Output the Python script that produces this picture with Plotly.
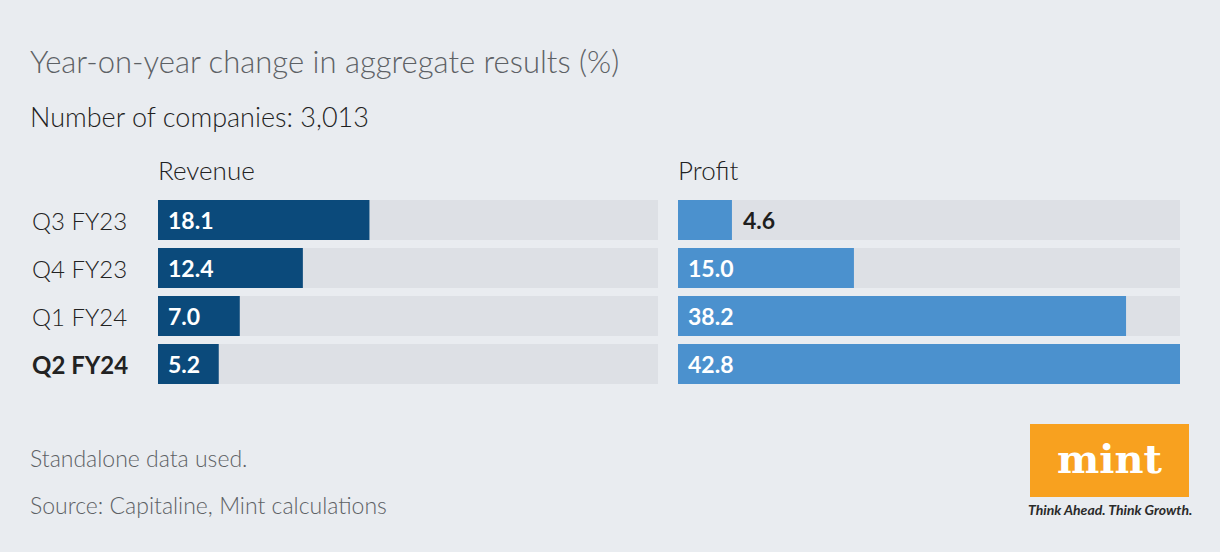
import plotly.graph_objects as go

categories = ["Q3 FY23", "Q4 FY23", "Q1 FY24", "Q2 FY24"]
revenue = [18.1, 12.4, 7.0, 5.2]
profit = [4.6, 15.0, 38.2, 42.8]
highlight = "Q2 FY24"

title = "Year-on-year change in aggregate results (%)"
subtitle = "Number of companies: 3,013"
panel_titles = ["Revenue", "Profit"]
notes = ["Standalone data used.", "Source: Capitaline, Mint calculations"]

W, H = 1220, 552
BG = "#e9ecf0"
TRACK = "#dde0e5"
NAVY = "#0b4a7b"
BLUE = "#4b91ce"
FONT = "Lato"

vmax = max(max(revenue), max(profit))

fig = go.Figure()

for xa, vals, col in (("x", revenue, NAVY), ("x2", profit, BLUE)):
    fig.add_trace(go.Bar(x=[vmax] * len(categories), y=categories, orientation="h",
                         marker=dict(color=TRACK, line=dict(width=0)), xaxis=xa, yaxis="y",
                         hoverinfo="skip", showlegend=False))
    fig.add_trace(go.Bar(x=vals, y=categories, orientation="h",
                         marker=dict(color=col, line=dict(width=0)), xaxis=xa, yaxis="y",
                         showlegend=False))

def px(x):
    return x / W

def py(y):
    return 1 - y / H

ann = []
# value labels
for xref, vals in (("x", revenue), ("x2", profit)):
    for c, v in zip(categories, vals):
        inside = v >= 5
        ann.append(dict(x=0 if inside else v, y=c, xref=xref, yref="y",
                        text=f"<b>{v:.1f}</b>", showarrow=False, xanchor="left", yanchor="middle",
                        xshift=8 if inside else 9, yshift=0,
                        font=dict(family=FONT, size=23, color="white" if inside else "#1e1e1e")))
# category labels
for c in categories:
    is_hl = c == highlight
    txt = f"<b>{c}</b>" if is_hl else c
    ann.append(dict(x=px(30), y=c, xref="paper", yref="y", text=txt, showarrow=False,
                    xanchor="left", yanchor="middle",
                    font=dict(family=FONT, size=24, color="#222222",
                              weight=700 if is_hl else 300)))
# panel titles
for xpos, t in zip((158, 678), panel_titles):
    ann.append(dict(x=px(xpos), y=py(170), xref="paper", yref="paper", text=t, showarrow=False,
                    xanchor="left", yanchor="middle", xshift=-2,
                    font=dict(family=FONT, size=26, color="#222222", weight=300)))
# titles
ann.append(dict(x=px(30), y=py(61), xref="paper", yref="paper", text=title, showarrow=False,
                xanchor="left", yanchor="middle", xshift=-2,
                font=dict(family=FONT, size=31, color="#5d6165", weight=300)))
ann.append(dict(x=px(30), y=py(116), xref="paper", yref="paper", text=subtitle, showarrow=False,
                xanchor="left", yanchor="middle", xshift=-2,
                font=dict(family=FONT, size=27, color="#1f1f1f", weight=300)))
# notes
for ypos, t in zip((458, 505), notes):
    ann.append(dict(x=px(30), y=py(ypos), xref="paper", yref="paper", text=t, showarrow=False,
                    xanchor="left", yanchor="middle", xshift=-2,
                    font=dict(family=FONT, size=23, color="#5d6165", weight=300)))
# logo
ann.append(dict(x=px(1109.5), y=py(458), xref="paper", yref="paper", text="<b>mint</b>",
                showarrow=False, xanchor="center", yanchor="middle",
                font=dict(family="DejaVu Serif", size=40, color="white")))
ann.append(dict(x=px(1109.5), y=py(509), xref="paper", yref="paper",
                text="<b><i>Think Ahead. Think Growth.</i></b>", showarrow=False,
                xanchor="center", yanchor="middle",
                font=dict(family=FONT, size=14, color="#2a2a2a")))

shapes = [dict(type="rect", xref="paper", yref="paper", x0=px(1030), x1=px(1189),
               y0=py(497), y1=py(424), fillcolor="#f8a11f", line=dict(width=0), layer="below")]

fig.update_layout(
    width=W, height=H, paper_bgcolor=BG, plot_bgcolor=BG,
    margin=dict(l=0, r=0, t=0, b=0),
    barmode="overlay", bargap=1 / 6,
    xaxis=dict(domain=[px(158), px(658)], range=[0, vmax], visible=False, fixedrange=True),
    xaxis2=dict(domain=[px(678), px(1180)], range=[0, vmax], visible=False, fixedrange=True),
    yaxis=dict(domain=[py(388), py(196)], categoryorder="array", categoryarray=categories,
               range=[len(categories) - 0.5, -0.5], visible=False, fixedrange=True),
    annotations=ann, shapes=shapes,
    font=dict(family=FONT),
)

fig.write_html("out.html", config={"displayModeBar": False},
               post_script="document.body.style.margin='0';document.body.style.overflow='hidden';")
